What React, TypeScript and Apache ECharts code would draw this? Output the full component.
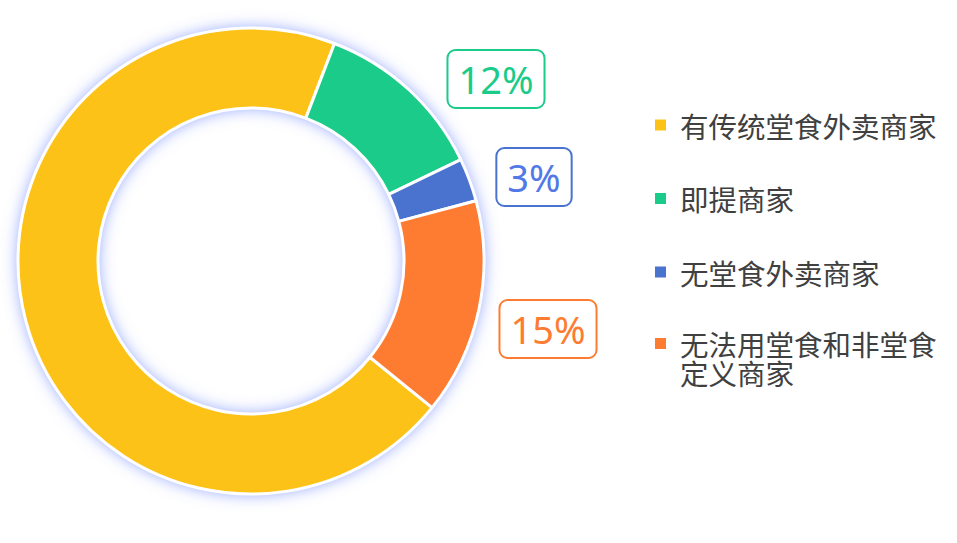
import { useEffect, useRef } from 'react';
import * as echarts from 'echarts';

const categories = ['有传统堂食外卖商家', '即提商家', '无堂食外卖商家', '无法用堂食和非堂食\n定义商家'];
const shares = [70, 12, 3, 15];
const colors = ['#FDC217', '#1ACB89', '#4A73CF', '#FE7C32'];
const labelColors = ['#FDC217', '#1ACB89', '#5279E6', '#FE7C32'];
const showLabel = [false, true, true, true];

// label box centres (px), by slice index
const labelPos: Record<number, [number, number]> = {
  1: [496, 79],
  2: [534, 177],
  3: [548, 329],
};

export default function App() {
  const chartRef = useRef<HTMLDivElement>(null);

  useEffect(() => {
    document.body.style.margin = '0';
    if (!chartRef.current) return;
    const chart = echarts.init(chartRef.current, undefined, { renderer: 'svg' });

    const legendText = {
      color: '#404040',
      fontSize: 28.5,
      lineHeight: 29,
      fontFamily: '"Noto Sans CJK SC", "Noto Sans", sans-serif',
      padding: [0, 0, 0, 8],
    };

    chart.setOption({
      animation: false,
      backgroundColor: '#ffffff',
      legend: [
        {
          orient: 'vertical',
          left: 653,
          top: 110.5,
          padding: 0,
          itemWidth: 13,
          itemHeight: 13,
          itemGap: 44.5,
          icon: 'rect',
          selectedMode: false,
          data: categories.slice(0, 3),
          textStyle: legendText,
        },
        {
          // leading blank line keeps the icon level with the first text line
          orient: 'vertical',
          left: 653,
          top: 300,
          padding: 0,
          itemWidth: 13,
          itemHeight: 13,
          icon: 'rect',
          selectedMode: false,
          data: categories.slice(3),
          formatter: (name: string) => '\n' + name,
          textStyle: legendText,
        },
      ],
      series: [
        {
          // glow ring behind the slices
          type: 'pie',
          name: 'glow',
          center: [251, 261],
          radius: [153, 233],
          silent: true,
          z: 1,
          label: { show: false },
          labelLine: { show: false },
          itemStyle: {
            color: '#ffffff',
            shadowBlur: 16,
            shadowColor: 'rgba(80, 110, 255, 0.65)',
          },
          data: [{ name: '_glow', value: 1 }],
        },
        {
          type: 'pie',
          center: [251, 261],
          radius: [153, 233],
          startAngle: -39,
          clockwise: true,
          z: 2,
          avoidLabelOverlap: false,
          itemStyle: {
            borderColor: '#ffffff',
            borderWidth: 3,
          },
          labelLine: { show: false },
          labelLayout: (params: any) => {
            const p = labelPos[params.dataIndex];
            if (!p) return {};
            return { x: p[0], y: p[1], align: 'center', verticalAlign: 'middle' };
          },
          emphasis: { disabled: true },
          data: categories.map((name, i) => ({
            name,
            value: shares[i],
            itemStyle: { color: colors[i] },
            label: {
              show: showLabel[i],
              position: 'outside',
              formatter: '{c}%',
              color: labelColors[i],
              fontSize: 38,
              lineHeight: 40,
              fontFamily: '"Noto Sans", sans-serif',
              backgroundColor: '#ffffff',
              borderColor: colors[i],
              borderWidth: 2,
              borderRadius: 7,
              padding: [8, 10],
            },
          })),
        },
      ],
    });

    return () => {
      chart.dispose();
    };
  }, []);

  return <div ref={chartRef} style={{ width: 957, height: 543 }} />;
}
